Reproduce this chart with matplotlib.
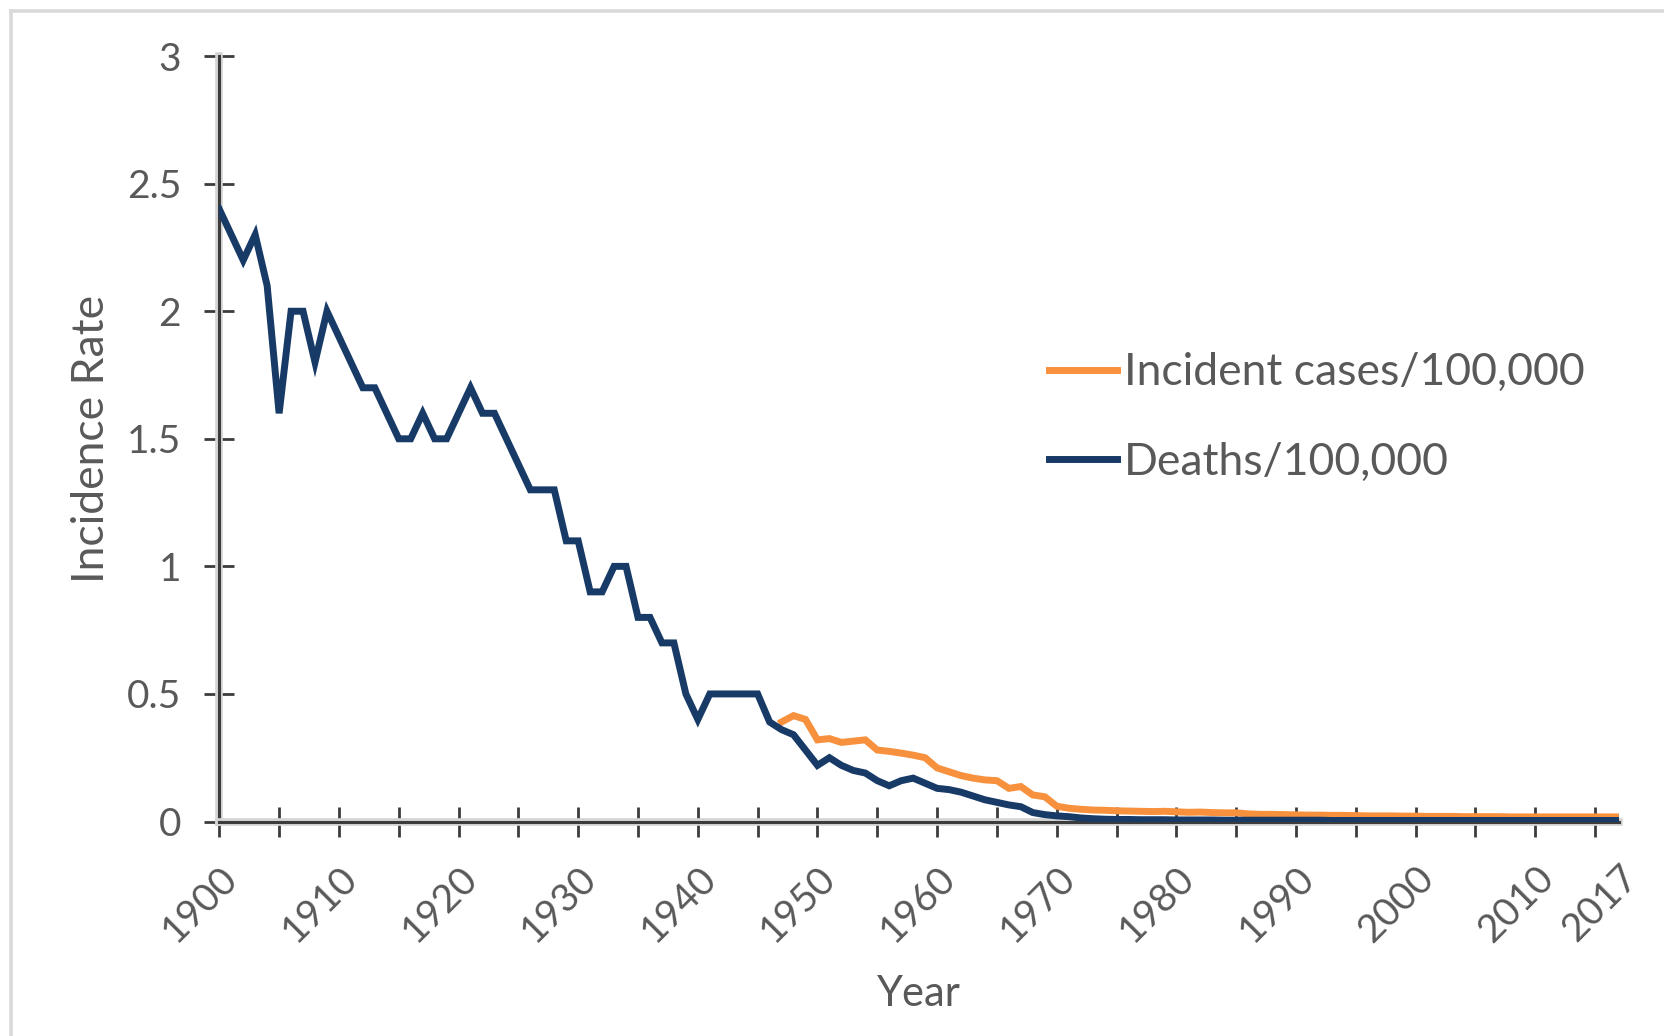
import matplotlib
matplotlib.use("Agg")
import matplotlib.pyplot as plt
import matplotlib.patheffects as pe
from matplotlib.lines import Line2D

plt.rcParams['font.family'] = ['Lato', 'DejaVu Sans']

# data
years = list(range(1900, 2018))

deaths = [
    2.4, 2.3, 2.2, 2.3, 2.1, 1.6, 2.0, 2.0, 1.8, 2.0,          # 1900s
    1.9, 1.8, 1.7, 1.7, 1.6, 1.5, 1.5, 1.6, 1.5, 1.5,          # 1910s
    1.6, 1.7, 1.6, 1.6, 1.5, 1.4, 1.3, 1.3, 1.3, 1.1,          # 1920s
    1.1, 0.9, 0.9, 1.0, 1.0, 0.8, 0.8, 0.7, 0.7, 0.5,          # 1930s
    0.4, 0.5, 0.5, 0.5, 0.5, 0.5, 0.39, 0.36, 0.34, 0.28,      # 1940s
    0.22, 0.25, 0.22, 0.20, 0.19, 0.16, 0.14, 0.16, 0.17, 0.15,  # 1950s
    0.13, 0.125, 0.115, 0.10, 0.085, 0.075, 0.065, 0.058, 0.035, 0.027,  # 1960s
    0.022, 0.019, 0.014, 0.011, 0.009, 0.008, 0.008, 0.007, 0.007, 0.007,  # 1970s
    0.006, 0.006, 0.006, 0.006, 0.005, 0.005, 0.005, 0.005, 0.005, 0.005,  # 1980s
    0.005, 0.005, 0.005, 0.004, 0.004, 0.004, 0.004, 0.004, 0.004, 0.004,  # 1990s
    0.004, 0.004, 0.004, 0.004, 0.004, 0.004, 0.004, 0.004, 0.004, 0.004,  # 2000s
    0.004, 0.004, 0.004, 0.004, 0.004, 0.004, 0.004, 0.004,  # 2010-2017
]

# incident cases only reported from 1947
case_years = list(range(1947, 2018))
cases = [
    0.39, 0.415, 0.40,                                          # 1947-49
    0.32, 0.325, 0.31, 0.315, 0.32, 0.28, 0.275, 0.268, 0.26, 0.25,  # 1950s
    0.21, 0.195, 0.18, 0.17, 0.163, 0.16, 0.13, 0.137, 0.104, 0.097,  # 1960s
    0.06, 0.052, 0.048, 0.045, 0.044, 0.042, 0.041, 0.040, 0.039, 0.040,  # 1970s
    0.038, 0.036, 0.037, 0.035, 0.034, 0.034, 0.030, 0.028, 0.028, 0.027,  # 1980s
    0.026, 0.025, 0.025, 0.024, 0.024, 0.023, 0.022, 0.022, 0.022, 0.021,  # 1990s
    0.021, 0.020, 0.020, 0.020, 0.019, 0.019, 0.019, 0.019, 0.018, 0.018,  # 2000s
    0.018, 0.018, 0.018, 0.018, 0.018, 0.018, 0.018, 0.018,  # 2010-2017
]

tick_years = list(range(1900, 2016, 5))
tick_labels = [str(y) if y % 10 == 0 else '' for y in tick_years]
y_ticks = [0, 0.5, 1, 1.5, 2, 2.5, 3]
y_labels = ['0', '0.5', '1', '1.5', '2', '2.5', '3']

orange = '#F7913D'
navy = '#173A67'
gray_txt = '#595959'
axis_col = '#3c3c3c'

W, H = 1665, 1036
fig = plt.figure(figsize=(W / 100, H / 100), dpi=100)
ax = fig.add_axes([219.3 / W, 1 - 821.5 / H, 1399.7 / W, 765.4 / H])

ax.plot(case_years, cases, color=orange, lw=5, label='Incident cases/100,000',
        solid_joinstyle='miter', zorder=3)
ax.plot(years, deaths, color=navy, lw=5, label='Deaths/100,000',
        solid_joinstyle='miter', zorder=4)

ax.set_xlim(1900, 2017)
ax.set_ylim(0, 3)

for s in ['top', 'right']:
    ax.spines[s].set_visible(False)
for s in ['left', 'bottom']:
    ax.spines[s].set_color(axis_col)
    ax.spines[s].set_linewidth(2.2)
    ax.spines[s].set_path_effects([pe.Stroke(linewidth=5.5, foreground='#d4d4d4'), pe.Normal()])
    ax.spines[s].set_zorder(2)

ax.set_xticks(tick_years)
ax.set_xticklabels(tick_labels)
ax.set_xticks([2017], minor=True)
ax.set_xticklabels(['2017'], minor=True)
ax.set_yticks(y_ticks)
ax.set_yticklabels(y_labels)

ax.tick_params(axis='both', which='major', direction='inout', length=21, width=2,
               color=axis_col, labelcolor=gray_txt, labelsize=28)
ax.tick_params(axis='y', pad=17)
ax.tick_params(axis='x', pad=17)
ax.tick_params(axis='x', which='minor', length=0, labelcolor=gray_txt, labelsize=28, pad=27)

for lab in ax.get_xticklabels() + ax.get_xticklabels(minor=True):
    lab.set_rotation(45)
    lab.set_ha('right')
    lab.set_va('top')
    lab.set_rotation_mode('anchor')

ax.set_ylabel('Incidence Rate', fontsize=32, color=gray_txt)
ax.yaxis.set_label_coords(-0.0766, 0.5)
ax.set_xlabel('Year', fontsize=30, color=gray_txt)
ax.xaxis.set_label_coords(0.5, -0.2006)

leg = ax.legend(loc='center left', bbox_to_anchor=(1049 / W, 1 - 417.4 / H),
                bbox_transform=fig.transFigure, frameon=False, fontsize=32,
                handlelength=1.53, handletextpad=0.15, labelspacing=1.09,
                borderpad=0, borderaxespad=0)
for t in leg.get_texts():
    t.set_color(gray_txt)

# light grey frame of the chart area (left and top edges only visible)
fig.add_artist(Line2D([11.5 / W, 11.5 / W], [0, 1 - 11 / H], color='#d9d9d9', lw=2.6,
                      transform=fig.transFigure))
fig.add_artist(Line2D([11.5 / W, 1], [1 - 11 / H, 1 - 11 / H], color='#d9d9d9', lw=2.6,
                      transform=fig.transFigure))

fig.savefig('out.png', dpi=100)
